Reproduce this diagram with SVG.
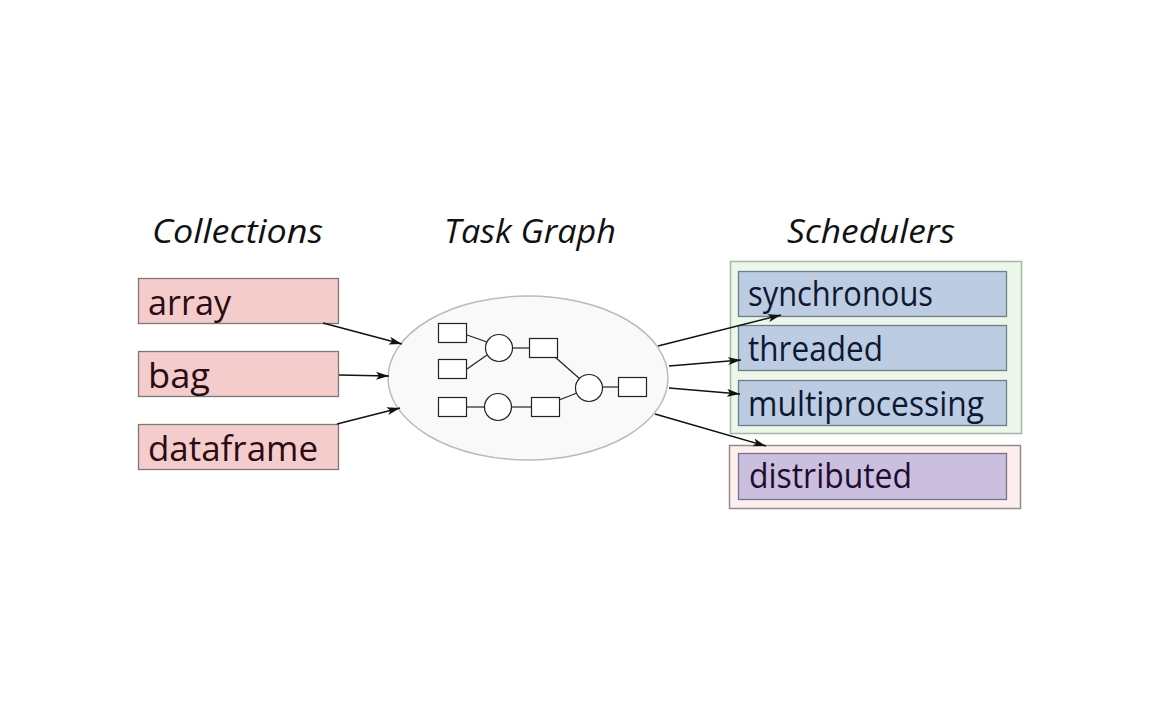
<svg xmlns="http://www.w3.org/2000/svg" width="1163" height="727" viewBox="0 0 1163 727">
<defs>
<style>
.h{font-family:"Open Sans","Noto Sans","DejaVu Sans",sans-serif;font-style:italic;font-size:33px;fill:#111}
.t{font-family:"Open Sans","Noto Sans","DejaVu Sans",sans-serif;font-size:34px}
.col rect{fill:#f4cccc;stroke:#807878;stroke-width:1.3}
.col text{fill:#2a0c12}
.sch rect{fill:#bccce2;stroke:#707c88;stroke-width:1.3}
.sch text{fill:#0e1830}
.g rect,.g circle{fill:#fff;stroke:#222;stroke-width:1.2}
.g line{stroke:#222;stroke-width:1.2}
.conn line{stroke:#111;stroke-width:1.5;marker-end:url(#ah)}
</style>
<marker id="ah" markerUnits="userSpaceOnUse" markerWidth="14" markerHeight="10" refX="13" refY="4" orient="auto">
<path d="M0,0 L13,4 L0,8 L3,4 Z" fill="#111"/>
</marker>
</defs>
<rect width="1163" height="727" fill="#fff"/>
<text class="h" x="152" y="243" textLength="171" lengthAdjust="spacingAndGlyphs">Collections</text>
<text class="h" x="444" y="243" textLength="172" lengthAdjust="spacingAndGlyphs">Task Graph</text>
<text class="h" x="787" y="243" textLength="168" lengthAdjust="spacingAndGlyphs">Schedulers</text>

<g id="array" class="col"><rect x="138.5" y="278.5" width="200" height="45"/><text class="t" x="148" y="315" textLength="83" lengthAdjust="spacingAndGlyphs">array</text></g>
<g id="bag" class="col"><rect x="138.5" y="351.5" width="200" height="45"/><text class="t" x="148" y="388" textLength="62" lengthAdjust="spacingAndGlyphs">bag</text></g>
<g id="dataframe" class="col"><rect x="138.5" y="424.5" width="200" height="45"/><text class="t" x="148" y="461" textLength="170" lengthAdjust="spacingAndGlyphs">dataframe</text></g>

<g id="taskgraph">
<ellipse cx="528" cy="378" rx="140" ry="82" fill="#f8f9f8" stroke="#bbbbbb" stroke-width="1.5"/>
<g class="g">
<line x1="467" y1="335" x2="487" y2="342"/>
<line x1="467" y1="369" x2="487" y2="355"/>
<line x1="512" y1="348" x2="529" y2="348"/>
<line x1="555" y1="357" x2="580" y2="379"/>
<line x1="467" y1="407" x2="485" y2="407"/>
<line x1="511" y1="407" x2="531" y2="407"/>
<line x1="559" y1="400" x2="577" y2="393"/>
<line x1="602" y1="387" x2="618" y2="387"/>
<rect x="438.5" y="323.5" width="28" height="19"/>
<rect x="438.5" y="359.5" width="28" height="19"/>
<rect x="529.5" y="338.5" width="28" height="19"/>
<rect x="438.5" y="397.5" width="28" height="19"/>
<rect x="531.5" y="397.5" width="28" height="19"/>
<rect x="618.5" y="377.5" width="28" height="19"/>
<circle cx="499" cy="348" r="13.5"/>
<circle cx="498" cy="407" r="13.5"/>
<circle cx="589" cy="388" r="13.5"/>
</g>
</g>

<g id="local-schedulers">
<rect x="730.5" y="261.5" width="291" height="172" fill="#ebf8e9" stroke="#a6b6a6" stroke-width="1.5"/>
<g id="synchronous" class="sch"><rect x="738.5" y="271.5" width="268" height="45"/><text class="t" x="748" y="306" textLength="185" lengthAdjust="spacingAndGlyphs">synchronous</text></g>
<g id="threaded" class="sch"><rect x="738.5" y="325.5" width="268" height="45"/><text class="t" x="748" y="361" textLength="135" lengthAdjust="spacingAndGlyphs">threaded</text></g>
<g id="multiprocessing" class="sch"><rect x="738.5" y="380.5" width="268" height="45"/><text class="t" x="748" y="416" textLength="236" lengthAdjust="spacingAndGlyphs">multiprocessing</text></g>
</g>

<g id="distributed-group">
<rect x="729.5" y="445.5" width="291" height="63" fill="#fcefee" stroke="#948c8c" stroke-width="1.5"/>
<g id="distributed"><rect x="738.5" y="453.5" width="268" height="46" fill="#cbbfdf" stroke="#7c7088" stroke-width="1.3"/><text class="t" x="749" y="488" textLength="163" lengthAdjust="spacingAndGlyphs" fill="#1e0c2c">distributed</text></g>
</g>

<g id="connectors" class="conn">
<line x1="323" y1="323" x2="402" y2="344"/>
<line x1="339" y1="375" x2="389" y2="376"/>
<line x1="337" y1="424" x2="400" y2="408"/>
<line x1="658" y1="346" x2="781" y2="315"/>
<line x1="669" y1="366" x2="741" y2="360"/>
<line x1="669" y1="388" x2="740" y2="394"/>
<line x1="655" y1="414" x2="766" y2="446"/>
</g>
</svg>
